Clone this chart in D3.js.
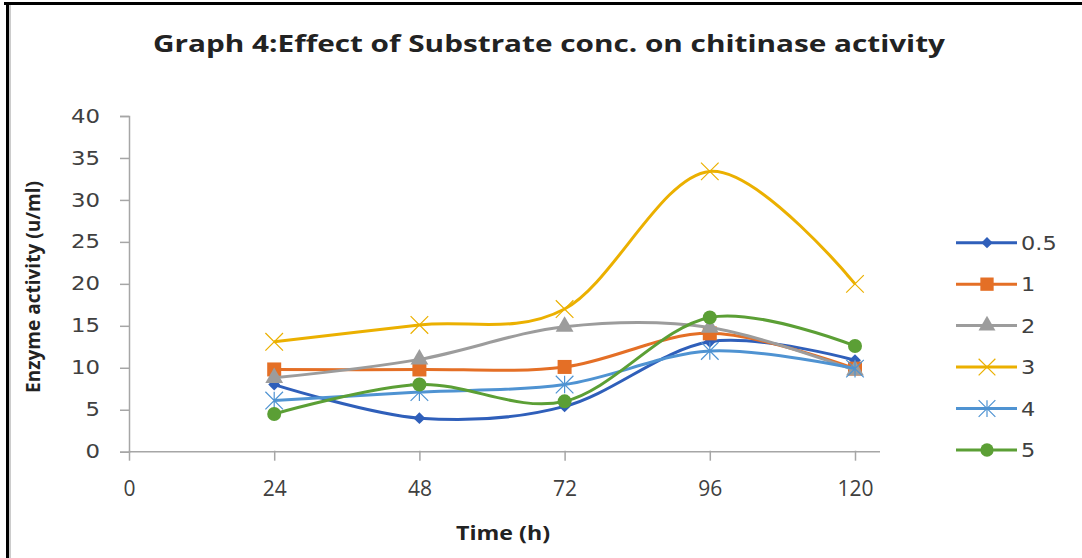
<!DOCTYPE html>
<html>
<head>
<meta charset="utf-8">
<script src="https://cdn.jsdelivr.net/npm/d3@7"></script>
<style>
  body { margin: 0; background: #fff; }
  svg { display: block; }
</style>
</head>
<body>
<div id="chart"></div>
<script>
// data
const times = [24, 48, 72, 96, 120];
const xTicks = [0, 24, 48, 72, 96, 120];
const yTicks = [0, 5, 10, 15, 20, 25, 30, 35, 40];
const seriesNames = ["0.5", "1", "2", "3", "4", "5"];
const conc05 = [8.0, 4.0, 5.4, 13.1, 10.9];
const conc1 = [9.8, 9.8, 10.1, 14.1, 9.9];
const conc2 = [8.8, 11.0, 14.9, 14.8, 9.7];
const conc3 = [13.1, 15.1, 17.0, 33.4, 20.0];
const conc4 = [6.1, 7.1, 8.0, 12.0, 9.9];
const conc5 = [4.5, 8.0, 6.0, 16.0, 12.6];

const COLORS = ["#2f5fba", "#e46f26", "#9c9c9c", "#ebb000", "#4f93d2", "#5b9f35"];
const MARKERS = ["diamond", "square", "triangle", "x", "star", "circle"];

const seriesData = [conc05, conc1, conc2, conc3, conc4, conc5].map((vals, i) => ({
    name: seriesNames[i],
    color: COLORS[i],
    marker: MARKERS[i],
    points: vals.map((v, j) => ({ t: times[j], v: v }))
}));

const W = 1082, H = 558;
const SVG = d3.select("#chart").append("svg")
    .attr("width", W)
    .attr("height", H);

// the screenshot's text is a bit stretched sideways, widen labels to match
function widen(sel, factor) {
    sel.each(function() {
        const len = this.getComputedTextLength();
        d3.select(this).attr("textLength", len * factor).attr("lengthAdjust", "spacingAndGlyphs");
    });
}

// frame (top + left border like the cropped screenshot)
SVG.append("line").attr("x1", 4).attr("x2", W).attr("y1", 3.5).attr("y2", 3.5)
    .attr("stroke", "#000").attr("stroke-width", 3);
SVG.append("line").attr("x1", 7.5).attr("x2", 7.5).attr("y1", 2).attr("y2", H)
    .attr("stroke", "#000").attr("stroke-width", 3);
SVG.append("line").attr("x1", 10).attr("x2", 10).attr("y1", 5).attr("y2", H)
    .attr("stroke", "#bbb").attr("stroke-width", 1.5);

const x = d3.scaleLinear().domain([0, 120]).range([129, 855]);
const y = d3.scaleLinear().domain([0, 40]).range([451.7, 116]);

// title
SVG.append("text")
    .attr("x", 549).attr("y", 52)
    .attr("text-anchor", "middle")
    .attr("textLength", 792).attr("lengthAdjust", "spacingAndGlyphs")
    .style("font-family", "'Open Sans', sans-serif")
    .style("font-weight", "bold")
    .style("font-size", "24px")
    .style("fill", "#222")
    .text("Graph 4:Effect of Substrate conc. on chitinase activity");

// y axis
const yAxis = SVG.append("g")
    .attr("transform", "translate(129,0)")
    .call(d3.axisLeft(y).tickValues(yTicks).tickSize(9).tickPadding(20));
yAxis.select(".domain").attr("stroke", "#a6a6a6").attr("stroke-width", 1.5);
yAxis.selectAll(".tick line").attr("stroke", "#a6a6a6").attr("stroke-width", 1.5);
yAxis.selectAll(".tick text")
    .attr("x", -29)
    .style("font-family", "'DejaVu Sans', sans-serif")
    .style("font-size", "19px")
    .style("fill", "#404040")
    .call(widen, 1.2);

// x axis
const xAxis = SVG.append("g")
    .attr("transform", "translate(0,451.7)")
    .call(d3.axisBottom(x).tickValues(xTicks).tickSize(9).tickSizeOuter(0).tickPadding(20));
xAxis.select(".domain").attr("d", "M" + x(0) + ",0H880").attr("stroke", "#a6a6a6").attr("stroke-width", 1.5);
xAxis.selectAll(".tick line").attr("y1", -1).attr("stroke", "#a6a6a6").attr("stroke-width", 1.5);
xAxis.selectAll(".tick text")
    .style("font-family", "'Open Sans', sans-serif")
    .style("font-size", "21px")
    .style("fill", "#404040");

// axis titles
SVG.append("text")
    .attr("transform", "translate(40,287) rotate(-90)")
    .attr("text-anchor", "middle")
    .attr("textLength", 212).attr("lengthAdjust", "spacingAndGlyphs")
    .style("font-family", "'Open Sans', sans-serif")
    .style("font-weight", "bold")
    .style("font-size", "19px")
    .style("fill", "#222")
    .text("Enzyme activity (u/ml)");

SVG.append("text")
    .attr("x", 503).attr("y", 540)
    .attr("text-anchor", "middle")
    .attr("textLength", 94).attr("lengthAdjust", "spacingAndGlyphs")
    .style("font-family", "'Open Sans', sans-serif")
    .style("font-weight", "bold")
    .style("font-size", "20px")
    .style("fill", "#222")
    .text("Time (h)");

// markers
function drawMarker(g, type, color, s) {
    if (type === "diamond") {
        g.append("path").attr("d", d3.symbol(d3.symbolDiamond2, s * s * 0.75)())
            .attr("fill", color);
    } else if (type === "square") {
        g.append("rect").attr("x", -s / 2).attr("y", -s / 2).attr("width", s).attr("height", s)
            .attr("fill", color);
    } else if (type === "triangle") {
        g.append("path").attr("d", d3.symbol(d3.symbolTriangle, s * s * 0.7)())
            .attr("fill", color);
    } else if (type === "x") {
        const r = s * 0.55;
        g.append("path").attr("d", `M${-r},${-r}L${r},${r}M${-r},${r}L${r},${-r}`)
            .attr("stroke", color).attr("stroke-width", 1.2).attr("fill", "none");
    } else if (type === "star") {
        const r = s * 0.55;
        g.append("path").attr("d", `M${-r},${-r}L${r},${r}M${-r},${r}L${r},${-r}M0,${-r}L0,${r}`)
            .attr("stroke", color).attr("stroke-width", 1.2).attr("fill", "none");
    } else if (type === "circle") {
        g.append("circle").attr("r", s / 2).attr("fill", color);
    }
}

const line = d3.line()
    .x(d => x(d.t))
    .y(d => y(d.v))
    .curve(d3.curveCardinal.tension(0));

const MSIZE = { diamond: 11, square: 14, triangle: 14, x: 16, star: 16, circle: 14 };

const seriesG = SVG.selectAll("g.series")
    .data(seriesData)
    .enter()
    .append("g")
        .attr("class", "series");

seriesG.append("path")
    .attr("d", d => line(d.points))
    .attr("fill", "none")
    .attr("stroke", d => d.color)
    .attr("stroke-width", 3);

seriesG.each(function(s) {
    d3.select(this).selectAll("g.pt")
        .data(s.points)
        .enter()
        .append("g")
            .attr("class", "pt")
            .attr("transform", d => `translate(${x(d.t)},${y(d.v)})`)
            .each(function() { drawMarker(d3.select(this), s.marker, s.color, MSIZE[s.marker]); });
});

// legend
const legend = SVG.append("g");
const legendRow = d3.scaleLinear().domain([0, 5]).range([242.7, 450]);
seriesData.forEach((s, i) => {
    const g = legend.append("g").attr("transform", `translate(0,${legendRow(i)})`);
    g.append("line").attr("x1", 956).attr("x2", 1017).attr("y1", 0).attr("y2", 0)
        .attr("stroke", s.color).attr("stroke-width", 3);
    const m = g.append("g").attr("transform", "translate(987,0)");
    drawMarker(m, s.marker, s.color, MSIZE[s.marker] * 0.95);
    g.append("text")
        .attr("x", 1021).attr("y", 7)
        .style("font-family", "'DejaVu Sans', sans-serif")
        .style("font-size", "19px")
        .style("fill", "#404040")
        .text(s.name)
        .call(widen, 1.18);
});
</script>
</body>
</html>
